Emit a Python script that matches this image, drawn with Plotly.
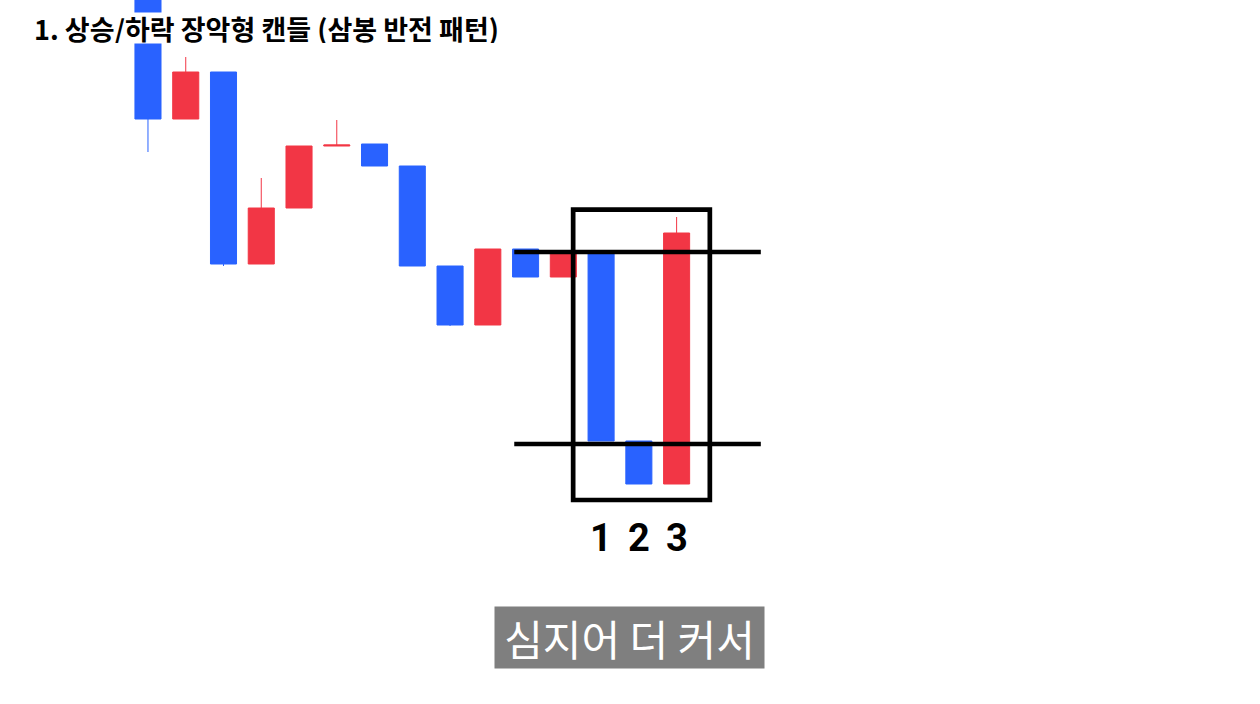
import plotly.graph_objects as go

# Candle data (price units; higher = up)
idx    = list(range(15))
opens  = [520, 381, 428, 236, 292, 354, 356, 334, 234, 175, 251, 223, 248, 59, 16]
closes = [381, 428, 236, 292, 354, 355, 334, 234, 175, 251, 223, 248, 59, 16, 267]
highs  = [520, 443, 428, 322, 354, 380, 356, 334, 234, 251, 251, 248, 248, 59, 283]
lows   = [348, 381, 234, 236, 292, 354, 334, 234, 174, 175, 223, 223, 59, 16, 16]

levels = [248, 56]            # horizontal reference lines
pattern_labels = ["1", "2", "3"]
pattern_idx = [12, 13, 14]

title_text = "1. 상승/하락 장악형 캔들 (삼봉 반전 패턴)"
caption_text = "심지어 더 커서"

UP = "#F23645"
DOWN = "#2962FF"

fig = go.Figure()
fig.add_trace(go.Candlestick(
    x=idx, open=opens, high=highs, low=lows, close=closes,
    increasing=dict(line=dict(color=UP, width=1), fillcolor=UP),
    decreasing=dict(line=dict(color=DOWN, width=1), fillcolor=DOWN),
    whiskerwidth=0,
    showlegend=False, hoverinfo="skip",
))

# reference lines
for lv in levels:
    fig.add_shape(type="line", xref="x", yref="y", x0=9.70, x1=16.23, y0=lv, y1=lv,
                  line=dict(color="black", width=4.7), layer="above")
# highlight box
fig.add_shape(type="rect", xref="x", yref="y", x0=11.26, x1=14.88, y0=0, y1=290.3,
              line=dict(color="black", width=4.7), fillcolor="rgba(0,0,0,0)", layer="above")

for lab, i in zip(pattern_labels, pattern_idx):
    fig.add_annotation(x=i, y=-37.5, xref="x", yref="y", text="<b>" + lab + "</b>",
                       showarrow=False, font=dict(family="Roboto", size=38, color="black"),
                       xanchor="center", yanchor="middle")

fig.add_annotation(x=33 / 1260, y=1 - 28 / 704, xref="paper", yref="paper",
                   text="<b>" + title_text + "</b>", showarrow=False,
                   xanchor="left", yanchor="middle", bgcolor="white",
                   borderpad=0, height=30,
                   font=dict(family="Noto Sans CJK KR", size=27, color="black", weight=900))

fig.add_annotation(x=629.5 / 1260, y=1 - 637.2 / 704, xref="paper", yref="paper",
                   text=caption_text, showarrow=False,
                   xanchor="center", yanchor="middle", bgcolor="#7f7f7f",
                   borderpad=0, width=269, height=61,
                   font=dict(family="Noto Sans CJK KR", size=42, color="white"))

fig.update_layout(
    width=1260, height=704,
    margin=dict(l=0, r=0, t=0, b=0),
    paper_bgcolor="white", plot_bgcolor="white",
    boxgap=0.31, boxgroupgap=0,
    xaxis=dict(range=[-3.919, 29.45], visible=False, rangeslider=dict(visible=False), fixedrange=True),
    yaxis=dict(range=[-204, 500], visible=False, fixedrange=True),
)

fig.write_html("out.html", config={"displayModeBar": False})
